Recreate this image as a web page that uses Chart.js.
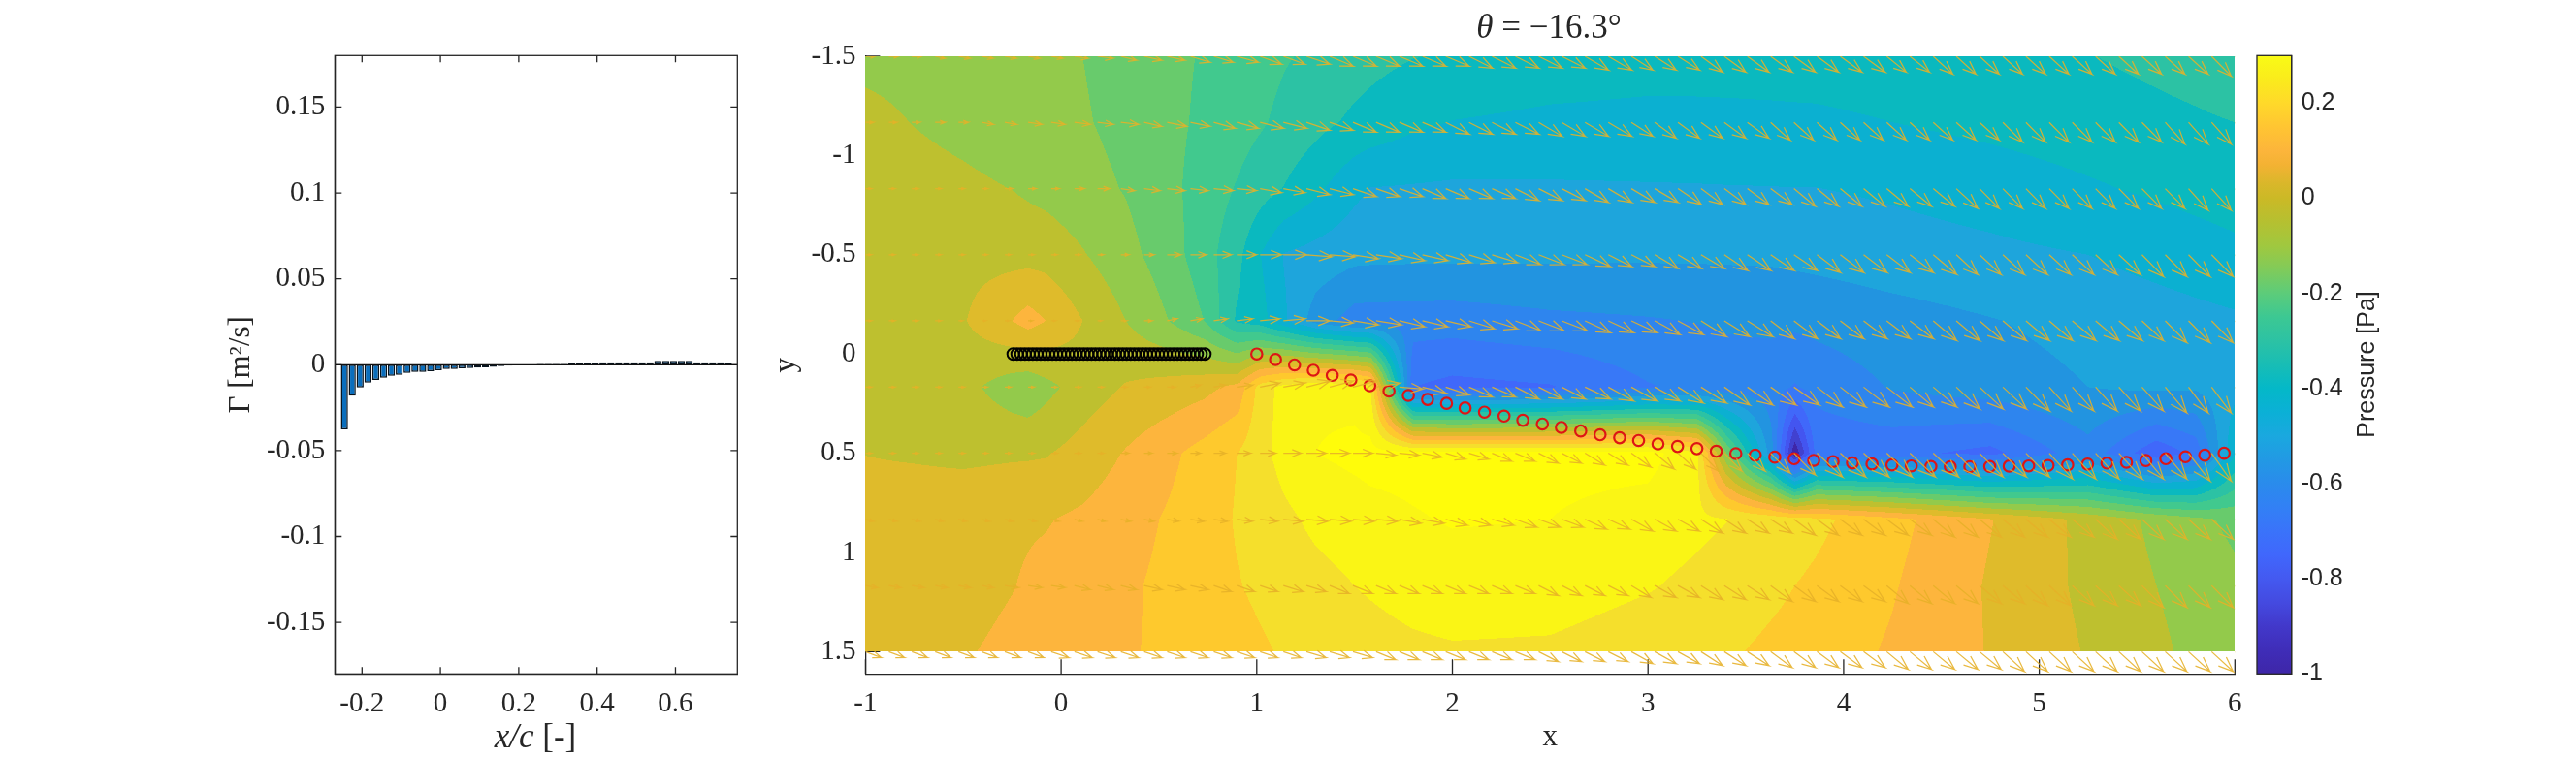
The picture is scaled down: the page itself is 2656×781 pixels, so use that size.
<!DOCTYPE html>
<html>
<head>
<meta charset="utf-8">
<title>Pressure field</title>
<script src="https://cdn.jsdelivr.net/npm/chart.js@4/dist/chart.umd.min.js"></script>
<style>
  html, body { margin: 0; background: #fff; }
  canvas { position: absolute; left: 0; top: 0; }
</style>
</head>
<body>
<canvas id="gammaChart" width="2656" height="781"></canvas>
<canvas id="fieldChart" width="2656" height="781"></canvas>
<canvas id="colorChart" width="2656" height="781"></canvas>
<script>
// circulation bars
const barX = [-0.245,-0.225,-0.205,-0.185,-0.165,-0.145,-0.125,-0.105,-0.085,-0.065,
  -0.045,-0.025,-0.005,0.015,0.035,0.055,0.075,0.095,0.115,0.135,
  0.155,0.175,0.195,0.215,0.235,0.255,0.275,0.295,0.315,0.335,
  0.355,0.375,0.395,0.415,0.435,0.455,0.475,0.495,0.515,0.535,
  0.555,0.575,0.595,0.615,0.635,0.655,0.675,0.695,0.715,0.735];
const gamma = [-0.0377,-0.018,-0.0133,-0.0104,-0.0089,-0.0076,-0.0064,-0.0059,-0.0047,-0.0042,
  -0.0042,-0.0038,-0.0032,-0.0025,-0.0025,-0.0021,-0.0019,-0.0017,-0.0015,-0.0013,
  -0.0008,-0.0006,-0.0001,0.0001,0.0001,0.0005,0.0005,0.0005,0.0005,0.001,
  0.001,0.001,0.001,0.0015,0.0015,0.0015,0.0015,0.0015,0.0015,0.0015,
  0.0023,0.0023,0.0023,0.0023,0.0023,0.0015,0.0015,0.0015,0.0015,0.001];
const gammaLimX = [-0.2693, 0.758];
const gammaZero = [0, 0];
const gammaTicksX = [-0.2, 0, 0.2, 0.4, 0.6];
const gammaTicksY = [-0.15, -0.1, -0.05, 0, 0.05, 0.1, 0.15];

// wake and airfoil vortices
const wakeX = [1,1.096,1.193,1.289,1.386,1.481,1.578,1.676,1.775,1.873,1.97,
  2.065,2.164,2.264,2.36,2.46,2.557,2.656,2.755,2.855,2.952,3.051,3.151,3.25,3.349,3.449,
  3.548,3.648,3.747,3.847,3.946,4.045,4.145,4.247,4.346,4.446,4.545,4.645,4.747,4.846,4.946,
  5.045,5.145,5.247,5.346,5.446,5.545,5.647,5.747,5.846,5.945];
const wakeY = [0,0.028,0.055,0.082,0.108,0.131,0.16,0.187,0.209,0.229,0.249,
  0.272,0.293,0.313,0.334,0.353,0.37,0.388,0.407,0.422,0.436,0.453,0.466,0.477,0.49,0.502,
  0.51,0.52,0.528,0.536,0.542,0.549,0.554,0.559,0.564,0.567,0.568,0.568,0.567,0.565,0.564,
  0.562,0.559,0.555,0.55,0.546,0.537,0.528,0.518,0.51,0.5];

// pressure table: one row per fieldY, one value per fieldX
const fieldX = [-1,-0.75,-0.5,-0.25,-0.17,-0.08,0.11,0.33,0.55,0.73,0.9,1.02,1.14,1.3,1.5,1.58,1.8,2,2.5,3,3.25,3.4,3.63,3.75,3.86,4.25,4.75,5.25,5.6,5.8,6];
const fieldY = [-1.5,-1.167,-0.833,-0.5,-0.167,0.167,0.5,0.833,1.167,1.5];
const pressure = [
  [-0.105,-0.11,-0.115,-0.125,-0.128,-0.135,-0.155,-0.18,-0.205,-0.225,-0.25,-0.265,-0.28,-0.295,-0.32,-0.33,-0.348,-0.355,-0.375,-0.385,-0.387,-0.388,-0.389,-0.39,-0.39,-0.385,-0.37,-0.352,-0.335,-0.325,-0.31],
  [-0.073,-0.092,-0.108,-0.125,-0.13,-0.136,-0.149,-0.173,-0.205,-0.231,-0.259,-0.278,-0.3,-0.33,-0.363,-0.373,-0.402,-0.417,-0.43,-0.435,-0.433,-0.431,-0.428,-0.426,-0.425,-0.415,-0.398,-0.38,-0.366,-0.358,-0.35],
  [-0.055,-0.066,-0.077,-0.091,-0.1,-0.11,-0.132,-0.159,-0.204,-0.246,-0.29,-0.322,-0.353,-0.4,-0.464,-0.482,-0.486,-0.49,-0.488,-0.485,-0.484,-0.483,-0.482,-0.481,-0.481,-0.47,-0.45,-0.423,-0.405,-0.395,-0.385],
  [-0.04,-0.04,-0.045,-0.047,-0.049,-0.05,-0.085,-0.133,-0.19,-0.256,-0.331,-0.415,-0.484,-0.503,-0.525,-0.527,-0.529,-0.53,-0.533,-0.535,-0.535,-0.535,-0.534,-0.529,-0.525,-0.51,-0.495,-0.48,-0.457,-0.443,-0.43],
  [-0.04,-0.04,-0.03,0.04,0.067,0.04,-0.025,-0.09,-0.155,-0.22,-0.36,-0.39,-0.47,-0.575,-0.64,-0.642,-0.644,-0.645,-0.625,-0.615,-0.608,-0.6,-0.595,-0.595,-0.59,-0.57,-0.548,-0.525,-0.51,-0.5,-0.49],
  [-0.05,-0.055,-0.07,-0.125,-0.139,-0.11,-0.06,-0.02,0,0.02,0.06,0.2,0.26,0.29,0.28,0.24,-0.74,-0.76,-0.745,-0.68,-0.66,-0.65,-0.65,-0.68,-0.655,-0.605,-0.575,-0.545,-0.53,-0.535,-0.5],
  [-0.026,-0.032,-0.04,-0.034,-0.033,-0.03,0,0.045,0.09,0.13,0.17,0.215,0.26,0.3,0.315,0.32,0.32,0.32,0.32,0.325,0.25,-0.15,-0.58,-0.99,-0.72,-0.72,-0.76,-0.635,-0.79,-0.72,-0.42],
  [0.002,0.012,0.022,0.031,0.034,0.036,0.052,0.08,0.112,0.142,0.175,0.195,0.22,0.25,0.27,0.28,0.295,0.305,0.3,0.27,0.25,0.237,0.215,0.2,0.185,0.125,0.043,-0.044,-0.105,-0.14,-0.17],
  [0,0.01,0.02,0.038,0.046,0.055,0.075,0.095,0.12,0.145,0.167,0.18,0.195,0.212,0.235,0.242,0.26,0.27,0.265,0.24,0.22,0.205,0.183,0.17,0.158,0.11,0.033,-0.04,-0.09,-0.115,-0.14],
  [0.01,0.023,0.035,0.053,0.06,0.067,0.082,0.098,0.118,0.137,0.152,0.163,0.175,0.19,0.205,0.21,0.222,0.228,0.225,0.2,0.187,0.178,0.158,0.15,0.138,0.097,0.036,-0.03,-0.078,-0.105,-0.125]
];
// contour levels, low to high, and the colour of each band between them
const levels = [-0.935,-0.87,-0.805,-0.74,-0.675,-0.61,-0.545,-0.48,-0.415,-0.35,-0.285,-0.22,-0.155,-0.09,-0.025,0.04,0.105,0.17,0.235,0.3];
const bandColors = ['#3F26A8','#4141D0','#4355F0','#4068FA','#3878F7','#2E85EE','#2294E0','#1EA5DC','#0BB0D1','#0AB9BF',
  '#2CC2A4','#41C98E','#68CB6C','#93CA4B','#BEC02F','#DFBB2B','#FDB53D','#FEC92D','#F5DF2C','#FAF515','#FFFC0A'];

// velocity arrows, in hundredths of a data unit
const quiverX = [-1,-0.881,-0.763,-0.644,-0.525,-0.407,-0.288,-0.169,-0.051,0.068,
  0.186,0.305,0.424,0.542,0.661,0.78,0.898,1.017,1.136,1.254,
  1.373,1.492,1.61,1.729,1.847,1.966,2.085,2.203,2.322,2.441,
  2.559,2.678,2.797,2.915,3.034,3.153,3.271,3.39,3.508,3.627,
  3.746,3.864,3.983,4.102,4.22,4.339,4.458,4.576,4.695,4.814,
  4.932,5.051,5.169,5.288,5.407,5.525,5.644,5.763,5.881,6];
const quiverU = [
  [5,5,5,5,6,6,6,6,6,7,8,8,9,9,10,10,11,11,11,12,12,12,12,12,12,12,12,12,12,12,12,12,12,11,11,11,11,11,11,11,11,11,11,11,10,10,10,10,10,10,10,10,10,10,10,10,10,10,10,10],
  [4,4,4,5,5,6,6,7,7,8,8,9,9,10,10,11,11,12,12,12,12,12,12,12,12,12,12,12,12,12,12,12,12,11,11,11,11,11,11,10,10,10,10,10,10,10,10,10,10,10,10,10,10,10,10,10,10,10,10,10],
  [3,3,3,3,3,3,4,4,4,5,6,7,8,9,9,10,10,11,11,12,12,12,12,12,12,12,12,12,12,12,12,12,12,12,12,12,11,11,11,11,11,11,11,11,11,11,11,11,10,10,10,10,10,10,10,10,10,10,10,10],
  [3,3,3,3,3,3,3,3,3,3,3,4,5,7,8,9,10,11,12,13,13,13,13,13,13,13,13,13,13,13,13,13,12,12,12,12,12,12,12,12,12,12,12,12,12,12,12,11,11,11,11,11,11,11,11,11,11,11,11,11],
  [3,3,3,3,2,2,2,2,2,2,2,3,4,5,6,7,8,10,11,12,12,13,13,13,13,13,13,13,13,13,13,13,13,13,13,13,13,13,13,12,12,12,12,12,12,12,12,12,12,12,12,12,12,12,12,11,11,11,11,11],
  [3,3,3,3,3,3,3,3,3,3,3,3,3,4,5,6,8,10,11,12,12,12,12,12,12,12,12,12,12,12,12,13,13,13,13,13,13,13,13,13,13,13,13,13,13,12,12,12,12,12,12,11,11,11,11,11,11,10,10,10],
  [3,3,3,3,3,3,3,3,3,3,3,4,4,5,5,6,7,8,9,10,10,10,10,10,10,10,10,10,10,10,10,10,10,10,10,9,9,9,9,10,11,13,13,13,13,13,13,12,12,12,12,12,12,12,12,11,11,11,10,10],
  [4,4,4,4,4,4,4,4,4,4,4,5,5,6,7,7,8,9,10,11,11,11,11,11,11,11,11,11,11,11,11,11,11,11,11,11,11,11,11,11,11,11,11,11,11,11,11,11,11,11,11,11,11,11,11,11,11,11,11,11],
  [6,6,6,6,6,6,7,7,7,8,8,8,9,9,9,9,9,9,10,10,10,10,10,10,10,10,10,10,10,10,10,10,10,10,11,11,11,11,11,11,11,11,11,11,11,11,11,11,11,11,11,11,11,11,11,11,11,11,11,11],
  [8,8,8,8,8,8,8,8,9,9,9,9,9,9,9,9,9,9,9,10,10,10,10,10,10,10,10,10,10,10,10,10,10,11,11,11,11,11,11,11,11,11,11,11,11,11,11,11,11,11,11,11,11,11,11,11,11,11,11,11]
];
const quiverV = [
  [0,0,0,1,1,1,1,1,1,1,1,2,2,2,3,3,3,4,4,4,5,5,5,5,5,5,6,6,6,6,6,7,7,7,7,7,8,8,8,8,8,8,8,8,8,8,9,9,9,9,9,9,9,9,9,9,9,9,10,10],
  [0,0,0,0,0,1,1,1,1,1,1,1,2,2,2,3,3,3,3,4,4,5,5,5,5,6,6,6,6,7,7,7,7,7,8,8,8,8,8,9,9,9,9,9,9,9,9,9,9,10,10,10,10,10,10,10,11,11,11,11],
  [0,0,0,0,0,0,0,0,0,0,0,1,1,1,1,1,1,2,2,3,3,4,4,4,5,5,5,5,6,6,6,7,7,7,7,8,8,8,8,8,9,9,9,9,9,9,9,10,10,10,10,10,10,10,10,10,10,11,11,11],
  [0,0,0,0,0,0,0,0,0,0,0,0,0,0,0,0,0,0,0,1,1,2,2,3,3,4,4,4,5,5,5,6,6,6,7,7,7,8,8,8,8,9,9,9,9,9,10,10,10,10,10,10,10,10,10,11,11,11,11,11],
  [0,0,0,0,0,0,0,0,0,0,0,0,0,-1,-1,-1,-1,-1,-1,0,1,2,2,3,3,3,4,4,5,5,5,6,6,6,7,7,8,8,8,9,9,9,9,9,9,9,10,10,10,10,10,10,10,10,10,10,11,11,11,11],
  [0,0,0,0,0,0,0,0,0,0,0,0,0,0,-1,-1,-1,-2,-2,-3,-3,-3,-2,1,3,4,5,5,6,6,6,6,7,7,7,8,8,9,9,9,9,10,10,10,10,10,10,11,11,11,12,12,12,12,12,12,13,13,13,13],
  [0,0,0,0,0,0,0,0,0,0,0,0,0,0,0,0,0,0,0,0,0,0,1,1,2,3,3,4,4,5,5,6,6,7,8,8,9,9,9,10,11,12,12,12,12,12,12,12,12,12,12,13,13,13,13,13,13,14,14,14],
  [1,1,1,1,1,1,1,1,1,1,1,1,1,1,1,1,1,1,1,1,1,1,1,2,2,3,3,3,4,4,4,5,5,6,6,6,7,7,7,7,8,8,8,8,8,8,9,9,9,9,9,9,9,10,10,10,10,10,10,10],
  [1,1,1,1,1,1,1,1,1,2,2,2,2,2,2,3,3,3,3,3,4,4,4,4,4,4,4,4,4,5,5,5,5,6,6,6,7,7,7,8,8,8,8,8,9,9,9,9,9,9,10,10,10,10,10,11,11,11,11,11],
  [3,3,3,3,3,3,3,3,3,3,3,3,3,3,3,3,3,3,3,3,3,3,4,4,4,4,4,4,4,5,5,5,5,6,6,6,7,7,7,8,8,8,8,8,9,9,9,9,9,10,10,10,10,10,10,10,10,10,10,10]
];
const fieldTicksX = [-1, 0, 1, 2, 3, 4, 5, 6];
const fieldTicksY = [-1.5, -1, -0.5, 0, 0.5, 1, 1.5];
const fieldLimY = [-1.5, 1.612];

// colorbar
const colorTicks = [-1, -0.8, -0.6, -0.4, -0.2, 0, 0.2];
const colorLim = [-1, 0.3];
const colorStopValues = [0.3,0.25,0.2,0.15,0.1,0.07,0.03,0,-0.05,-0.1,-0.15,-0.2,-0.25,-0.3,-0.35,-0.4,-0.45,-0.5,-0.55,-0.6,-0.65,-0.7,-0.75,-0.8,-0.85,-0.9,-0.95,-1];
const colorStops = ['#F9FB15','#FAEB1C','#FFD92A','#FFC532','#FCB53B','#F3B233','#D9B72A','#CBB926','#B5C031','#A0C83F','#80CB5A','#5CCC7A','#3CC893','#2CC2A4','#18BDB5','#04B8C8','#0BB0D6','#1AA8DF','#2299E4','#2A8BEC','#3280F5','#3A73FA','#4067FC','#4459F0','#444AE0','#4238CA','#3F2DB8','#3E26A8'];

const INK = '#262626';
const SERIF = '"Liberation Serif"';
const SANS = '"Liberation Sans"';
const W = 2656, H = 781;

// MATLAB style ticks that point into the axes
const innerTicks = {
  id: 'innerTicks',
  beforeDatasetsDraw(chart, args, opts) {
    const a = chart.chartArea, ctx = chart.ctx;
    ctx.save();
    ctx.strokeStyle = INK;
    ctx.lineWidth = 1.3;
    ctx.beginPath();
    if (opts.x) chart.scales.x.ticks.forEach(t => {
      const p = chart.scales.x.getPixelForValue(t.value);
      ctx.moveTo(p, a.bottom); ctx.lineTo(p, a.bottom - opts.length);
      if (opts.both) { ctx.moveTo(p, a.top); ctx.lineTo(p, a.top + opts.length); }
    });
    chart.scales.y.ticks.forEach(t => {
      const p = chart.scales.y.getPixelForValue(t.value);
      if (opts.rightOnly) { ctx.moveTo(a.right, p); ctx.lineTo(a.right - opts.length, p); return; }
      ctx.moveTo(a.left, p); ctx.lineTo(a.left + opts.length, p);
      if (opts.both) { ctx.moveTo(a.right, p); ctx.lineTo(a.right - opts.length, p); }
    });
    ctx.stroke();
    ctx.restore();
  }
};

const frameBox = {
  id: 'frameBox',
  afterDraw(chart, args, opts) {
    if (!opts.on) return;
    const a = chart.chartArea, ctx = chart.ctx;
    ctx.save();
    ctx.strokeStyle = INK;
    ctx.lineWidth = 1.3;
    ctx.strokeRect(a.left, a.top, a.right - a.left, a.bottom - a.top);
    ctx.restore();
  }
};

// labels with mixed roman and italic runs, or rotated the other way than chart.js does
const textRuns = {
  id: 'textRuns',
  afterDraw(chart, args, opts) {
    const ctx = chart.ctx;
    (opts.items || []).forEach(item => {
      ctx.save();
      ctx.translate(item.x, item.y);
      ctx.rotate(item.rot || 0);
      ctx.fillStyle = INK;
      ctx.textBaseline = 'middle';
      ctx.textAlign = 'left';
      const fonts = item.runs.map(r => (r[1] ? 'italic ' : '') + item.size + 'px ' + item.family);
      let width = 0;
      item.runs.forEach((r, i) => { ctx.font = fonts[i]; width += ctx.measureText(r[0]).width; });
      let cx = -width / 2;
      item.runs.forEach((r, i) => {
        ctx.font = fonts[i];
        ctx.fillText(r[0], cx, 0);
        cx += ctx.measureText(r[0]).width;
      });
      ctx.restore();
    });
  }
};

// contourf of the pressure table, every pixel looked up through the scales
const contourFill = {
  id: 'contourFill',
  beforeDatasetsDraw(chart) {
    const sx = chart.scales.x, sy = chart.scales.y;
    const x0 = Math.round(sx.getPixelForValue(fieldX[0]));
    const x1 = Math.round(sx.getPixelForValue(fieldX[fieldX.length - 1]));
    const y0 = Math.round(sy.getPixelForValue(fieldY[0]));
    const y1 = Math.round(sy.getPixelForValue(fieldY[fieldY.length - 1]));
    const w = x1 - x0, h = y1 - y0;
    const off = document.createElement('canvas');
    off.width = w; off.height = h;
    const octx = off.getContext('2d');
    const img = octx.createImageData(w, h);
    const rgb = bandColors.map(c => [1, 3, 5].map(i => parseInt(c.substr(i, 2), 16)));
    const locate = (arr, v) => {
      let i = 0;
      while (i < arr.length - 2 && v > arr[i + 1]) i++;
      return [i, Math.min(1, Math.max(0, (v - arr[i]) / (arr[i + 1] - arr[i])))];
    };
    const cols = [];
    for (let px = 0; px < w; px++) cols.push(locate(fieldX, sx.getValueForPixel(x0 + px + 0.5)));
    let k = 0;
    for (let py = 0; py < h; py++) {
      const [r, fy] = locate(fieldY, sy.getValueForPixel(y0 + py + 0.5));
      for (let px = 0; px < w; px++) {
        const [c, fx] = cols[px];
        const top = pressure[r][c] + (pressure[r][c + 1] - pressure[r][c]) * fx;
        const bot = pressure[r + 1][c] + (pressure[r + 1][c + 1] - pressure[r + 1][c]) * fx;
        const p = top + (bot - top) * fy;
        let b = 0;
        while (b < levels.length && p >= levels[b]) b++;
        img.data[k++] = rgb[b][0];
        img.data[k++] = rgb[b][1];
        img.data[k++] = rgb[b][2];
        img.data[k++] = 255;
      }
    }
    octx.putImageData(img, 0, 0);
    chart.ctx.drawImage(off, x0, y0);
  }
};

// fixes the plot rectangle: left, top, right, bottom in page pixels
function plotBox(l, t, r, b, yWidth, xHeight) {
  return {
    padding: { left: l - yWidth, top: t, right: W - r, bottom: H - b - xHeight },
    yWidth, xHeight
  };
}

function tickFont(family, size) {
  return { family: family, size: size };
}

function axis(lim, ticks, box, key, extra) {
  return Object.assign({
    type: 'linear',
    min: lim[0],
    max: lim[1],
    offset: false,
    afterBuildTicks(scale) { scale.ticks = ticks.map(v => ({ value: v })); },
    afterFit(scale) { if (key === 'x') scale.height = box.xHeight; else scale.width = box.yWidth; },
    grid: { display: false },
    border: { display: true, color: INK, width: 1.3 },
    ticks: {
      color: INK,
      font: tickFont(SERIF, 29),
      padding: key === 'x' ? 6 : 2,
      maxRotation: 0,
      autoSkip: false,
      callback: v => String(v)
    }
  }, extra || {});
}

Chart.defaults.animation = false;
Chart.defaults.devicePixelRatio = 1;

// left panel
const gammaBox = plotBox(345.3, 57.3, 760.3, 695.3, 115, 84);
new Chart(document.getElementById('gammaChart'), {
  data: {
    datasets: [
      {
        type: 'line',
        data: gammaLimX.map((x, i) => ({ x: x, y: gammaZero[i] })),
        borderColor: '#111',
        borderWidth: 1.3,
        pointRadius: 0
      },
      {
        type: 'bar',
        data: barX.map((x, i) => ({ x: x, y: gamma[i] })),
        backgroundColor: '#0A6EBD',
        borderColor: '#07131E',
        borderWidth: 1.5,
        borderSkipped: false,
        barPercentage: 0.9,
        categoryPercentage: 1
      }
    ]
  },
  options: {
    responsive: false,
    events: [],
    layout: { padding: gammaBox.padding },
    plugins: {
      legend: { display: false },
      tooltip: { enabled: false },
      innerTicks: { x: true, both: true, length: 7 },
      frameBox: { on: true },
      textRuns: {
        items: [{ x: 552, y: 762, size: 35, family: SERIF, runs: [['x/c', true], [' [-]', false]] }]
      }
    },
    scales: {
      x: axis([-0.2693, 0.758], gammaTicksX, gammaBox, 'x'),
      y: axis([-0.18, 0.18], gammaTicksY, gammaBox, 'y', {
        title: { display: true, text: 'Γ [m²/s]', color: INK, font: { family: SERIF, size: 31 }, padding: 0 }
      })
    }
  },
  plugins: [innerTicks, frameBox, textRuns]
});

// main panel: line segments of every arrow, broken with NaN
const quiverPoints = [];
fieldY.forEach((y, r) => {
  quiverX.forEach((x, c) => {
    const u = quiverU[r][c] / 100, v = quiverV[r][c] / 100;
    const tx = x + u, ty = y + v;
    quiverPoints.push({ x: x, y: y }, { x: tx, y: ty },
      { x: tx - 0.5 * (u + 0.4 * v), y: ty - 0.5 * (v - 0.4 * u) },
      { x: tx, y: ty },
      { x: tx - 0.5 * (u - 0.4 * v), y: ty - 0.5 * (v + 0.4 * u) },
      { x: NaN, y: NaN });
  });
});

const fieldBox = plotBox(892.4, 58, 2304.3, 695.3, 100, 84);
new Chart(document.getElementById('fieldChart'), {
  type: 'scatter',
  data: {
    datasets: [
      {
        data: quiverPoints,
        showLine: true,
        spanGaps: false,
        borderColor: 'rgba(230,176,40,0.88)',
        borderWidth: 1.25,
        pointRadius: 0,
        order: 0
      },
      {
        data: wakeX.map((x, i) => ({ x: x, y: wakeY[i] })),
        pointStyle: 'circle',
        pointRadius: 5.7,
        pointBorderWidth: 2.2,
        pointBorderColor: '#DD1515',
        pointBackgroundColor: 'rgba(0,0,0,0)',
        order: 1
      },
      {
        data: barX.map(x => ({ x: x, y: 0 })),
        pointStyle: 'circle',
        pointRadius: 6,
        pointBorderWidth: 2,
        pointBorderColor: '#000',
        pointBackgroundColor: 'rgba(0,0,0,0)',
        order: 2
      }
    ]
  },
  options: {
    responsive: false,
    events: [],
    layout: { padding: fieldBox.padding },
    plugins: {
      legend: { display: false },
      tooltip: { enabled: false },
      innerTicks: { x: true, length: 15 },
      textRuns: {
        items: [{ x: 1597, y: 30, size: 35, family: SERIF, runs: [['θ', true], [' = −16.3°', false]] }]
      }
    },
    scales: {
      x: axis([-1, 6], fieldTicksX, fieldBox, 'x', {
        title: { display: true, text: 'x', color: INK, font: { family: SERIF, size: 31 }, padding: 0 }
      }),
      y: axis(fieldLimY, fieldTicksY, fieldBox, 'y', {
        reverse: true,
        title: { display: true, text: 'y', color: INK, font: { family: SERIF, size: 31 }, padding: 0 }
      })
    }
  },
  plugins: [innerTicks, contourFill, textRuns]
});

// colorbar: one floating bar with the colormap as its fill
const colorBox = {
  padding: { left: 2327, top: 57.3, right: 0, bottom: 85.7 },
  yWidth: 293.3,
  xHeight: 0
};
new Chart(document.getElementById('colorChart'), {
  type: 'bar',
  data: {
    labels: ['Pressure'],
    datasets: [{
      data: [colorLim],
      barPercentage: 1,
      categoryPercentage: 1,
      backgroundColor(ctx) {
        const a = ctx.chart.chartArea;
        if (!a) return colorStops[0];
        const g = ctx.chart.ctx.createLinearGradient(0, a.top, 0, a.bottom);
        colorStopValues.forEach((v, i) => {
          g.addColorStop((colorLim[1] - v) / (colorLim[1] - colorLim[0]), colorStops[i]);
        });
        return g;
      }
    }]
  },
  options: {
    responsive: false,
    events: [],
    layout: { padding: colorBox.padding },
    plugins: {
      legend: { display: false },
      tooltip: { enabled: false },
      innerTicks: { rightOnly: true, length: 9 },
      frameBox: { on: true },
      textRuns: {
        items: [{ x: 2441, y: 376, rot: -Math.PI / 2, size: 25, family: SANS, runs: [['Pressure [Pa]', false]] }]
      }
    },
    scales: {
      x: { display: false },
      y: axis(colorLim, colorTicks, colorBox, 'y', {
        position: 'right',
        ticks: {
          color: INK,
          font: tickFont(SANS, 25),
          padding: 2,
          autoSkip: false,
          callback: v => String(v)
        }
      })
    }
  },
  plugins: [innerTicks, frameBox, textRuns]
});
</script>
</body>
</html>
